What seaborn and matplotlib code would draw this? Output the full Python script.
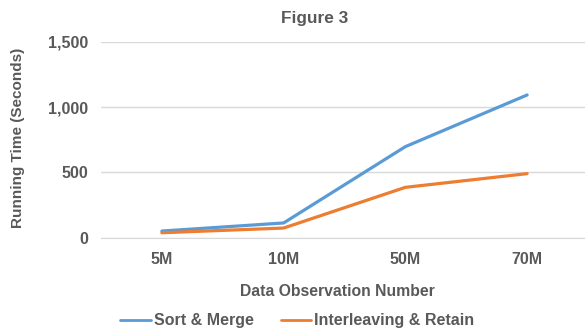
import pandas as pd
import seaborn as sns
import matplotlib.pyplot as plt
from matplotlib.ticker import FuncFormatter

sizes = ["5M", "10M", "50M", "70M"]
sort_merge = [51, 113, 698, 1094]
interleave_retain = [38, 74, 386, 491]

df = pd.DataFrame({
    "size": sizes * 2,
    "time": sort_merge + interleave_retain,
    "method": ["Sort & Merge"] * 4 + ["Interleaving & Retain"] * 4,
})

sns.set_style("white")
plt.rcParams["font.family"] = ["Liberation Sans", "DejaVu Sans"]
grey = "#595959"

fig = plt.figure(figsize=(5.85, 3.31), dpi=100)
ax = fig.add_axes([101 / 585, 1 - 237.7 / 331, 487 / 585, 195.7 / 331])

sns.lineplot(data=df, x="size", y="time", hue="method",
             palette=["#5B9BD5", "#ED7D31"], linewidth=2.3, ax=ax,
             sort=False, legend=True)

ax.set_xlim(-0.5, 3.5)
ax.set_ylim(0, 1500)
ax.set_yticks([0, 500, 1000, 1500])
ax.yaxis.set_major_formatter(FuncFormatter(lambda v, p: f"{int(v):,}"))
ax.grid(axis="y", color="#D9D9D9", linewidth=1)
ax.set_axisbelow(True)
for s in ["top", "right", "left"]:
    ax.spines[s].set_visible(False)
ax.spines["bottom"].set_color("#D9D9D9")
ax.tick_params(axis="both", length=0, colors=grey, labelsize=11.5)
ax.tick_params(axis="x", pad=10)
ax.tick_params(axis="y", pad=9)
for lbl in ax.get_xticklabels() + ax.get_yticklabels():
    lbl.set_fontweight("bold")

ax.set_xlabel("")
ax.set_ylabel("")
fig.text(18 / 585, 1 - 138 / 331, "Running Time (Seconds)", rotation=90,
         ha="center", va="center", color=grey, fontsize=11, fontweight="bold")
fig.text(337 / 585, 1 - 291 / 331, "Data Observation Number",
         ha="center", va="center", color=grey, fontsize=11.3, fontweight="bold")
fig.text(315 / 585, 1 - 19 / 331, "Figure 3",
         ha="center", va="center", color=grey, fontsize=12.4, fontweight="bold")

leg = ax.legend(loc="center", bbox_to_anchor=(297.5 / 585, 1 - 321 / 331),
                bbox_transform=fig.transFigure, ncol=2, frameon=False,
                handlelength=1.9, handletextpad=0.2, columnspacing=1.7,
                borderpad=0, prop={"size": 11.5, "weight": "bold"})
for line in leg.get_lines():
    line.set_linewidth(2)
for t in leg.get_texts():
    t.set_color(grey)

fig.savefig("out.png", dpi=100)
